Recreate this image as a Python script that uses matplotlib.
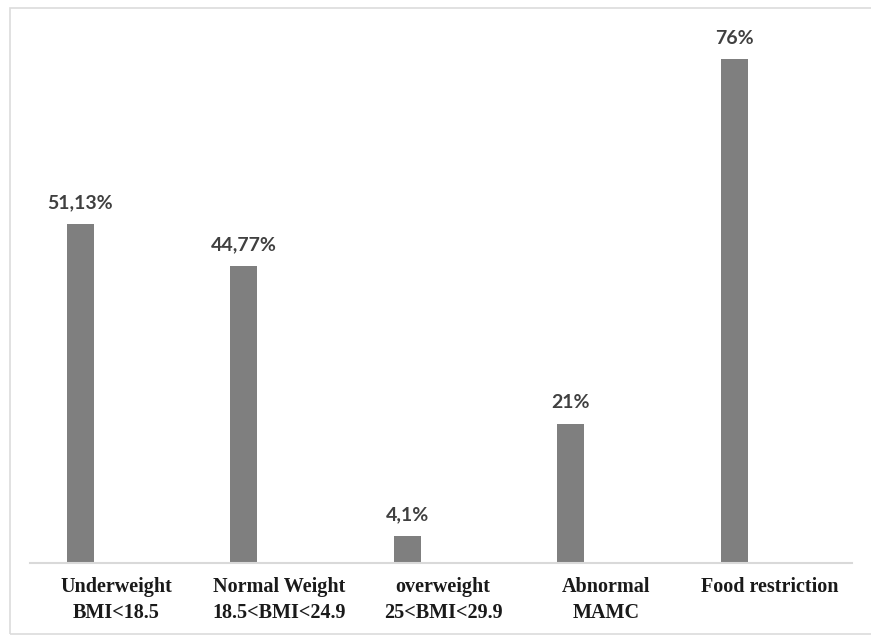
import matplotlib
matplotlib.use("Agg")
import matplotlib.pyplot as plt
from matplotlib.patches import Rectangle

categories = ["Underweight\nBMI<18.5", "Normal Weight\n18.5<BMI<24.9",
              "overweight\n25<BMI<29.9", "Abnormal\nMAMC", "Food restriction"]
values = [51.13, 44.77, 4.1, 21, 76]
value_labels = ["51,13%", "44,77%", "4,1%", "21%", "76%"]

W, H = 871, 637
fig = plt.figure(figsize=(W / 100, H / 100), dpi=100)
fig.patch.set_facecolor("white")

# outer chart frame (right edge falls outside the picture)
fig.patches.append(Rectangle((10 / W, 3 / H), 900 / W, 626 / H, transform=fig.transFigure,
                             fill=False, edgecolor="#dcdcdc", linewidth=1.2))

ax_left, ax_right = 30 / W, 852 / W
ax_bottom, ax_top = (H - 563) / H, (H - 20) / H
ax = fig.add_axes([ax_left, ax_bottom, ax_right - ax_left, ax_top - ax_bottom])

px_per_cat = 163.5
xs = list(range(len(values)))
bar_w = 27 / px_per_cat
ax.bar(xs, values, width=bar_w, color="#7f7f7f", zorder=2)

x0 = (30 - 80) / px_per_cat
ax.set_xlim(x0, x0 + 822 / px_per_cat)
ax.set_ylim(0, (563 - 20) / 6.63)

for x, v, lab in zip(xs, values, value_labels):
    ax.annotate(lab, (x, v), xytext=(0, 9), textcoords="offset points",
                ha="center", va="bottom", fontsize=14, fontweight="bold",
                family=["Lato", "DejaVu Sans"], color="#404040")

offset = 36 / px_per_cat
ax.set_xticks([x + offset for x in xs])
ax.set_xticklabels(categories, fontsize=14.5, fontweight="bold",
                   family=["Liberation Serif", "DejaVu Serif"], color="#1a1a1a",
                   linespacing=1.4)
ax.tick_params(axis="x", length=0, pad=10)
ax.set_yticks([])
for s in ["top", "right", "left"]:
    ax.spines[s].set_visible(False)
ax.spines["bottom"].set_color("#d9d9d9")
ax.spines["bottom"].set_linewidth(1.5)

fig.savefig("out.png", dpi=100, facecolor="white")
